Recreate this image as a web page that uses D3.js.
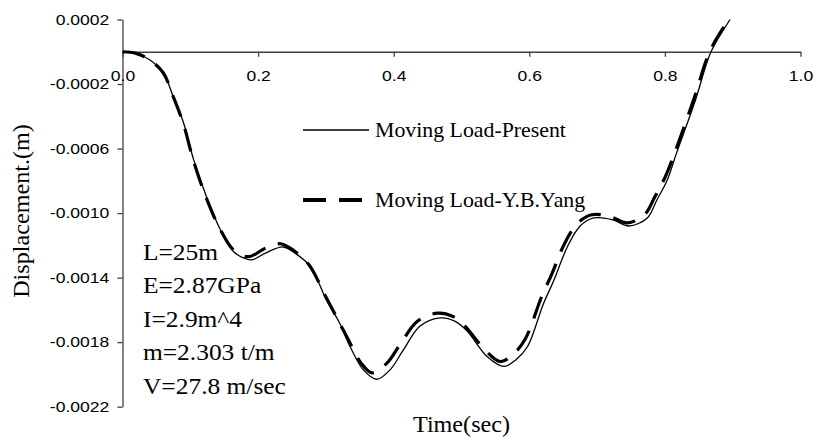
<!DOCTYPE html>
<html>
<head>
<meta charset="utf-8">
<script src="https://cdn.jsdelivr.net/npm/d3@7"></script>
<style>
  html, body { margin: 0; padding: 0; background: #fff; }
  svg { display: block; }
</style>
</head>
<body>
<svg id="chart" width="816" height="442"></svg>
<script>
// ---- data ----
const xTicks = [0, 0.2, 0.4, 0.6, 0.8, 1.0];
const yTicks = [0.0002, -0.0002, -0.0006, -0.0010, -0.0014, -0.0018, -0.0022];
const seriesNames = ["Moving Load-Present", "Moving Load-Y.B.Yang"];
const params = ["L=25m", "E=2.87GPa", "I=2.9m^4", "m=2.303 t/m", "V=27.8 m/sec"];

const presentT = [0, 0.02, 0.04, 0.06, 0.075, 0.09, 0.105, 0.124, 0.144, 0.164, 0.18, 0.191, 0.21, 0.237, 0.255, 0.277, 0.301, 0.32, 0.336, 0.355, 0.375, 0.395, 0.414, 0.439, 0.469, 0.49, 0.508, 0.538, 0.563, 0.58, 0.597, 0.621, 0.636, 0.656, 0.675, 0.695, 0.722, 0.747, 0.774, 0.788, 0.803, 0.817, 0.845, 0.868, 0.896, 0.91];
const presentV = [0, -0.00001, -0.00005, -0.00013, -0.00028, -0.00044, -0.00067, -0.00090, -0.00110, -0.00124, -0.00128, -0.00129, -0.00125, -0.00121, -0.00125, -0.00133, -0.00154, -0.00168, -0.00183, -0.00197, -0.00203, -0.00197, -0.00185, -0.00170, -0.00165, -0.00167, -0.00173, -0.00189, -0.00195, -0.00191, -0.00183, -0.00156, -0.00142, -0.00121, -0.00108, -0.00103, -0.00104, -0.00108, -0.00103, -0.00092, -0.00080, -0.00063, -0.00030, 0.0, 0.0002, 0.00030];

const yangT = [0, 0.02, 0.04, 0.06, 0.075, 0.09, 0.105, 0.124, 0.144, 0.164, 0.186, 0.21, 0.233, 0.252, 0.275, 0.30, 0.32, 0.335, 0.352, 0.368, 0.39, 0.41, 0.435, 0.465, 0.487, 0.505, 0.535, 0.557, 0.575, 0.594, 0.618, 0.633, 0.653, 0.672, 0.692, 0.718, 0.745, 0.77, 0.785, 0.80, 0.815, 0.843, 0.866, 0.894, 0.91];
const yangV = [0, -0.00001, -0.00005, -0.00013, -0.00028, -0.00045, -0.00068, -0.00091, -0.00110, -0.00123, -0.00127, -0.00122, -0.00119, -0.00123, -0.00132, -0.00152, -0.00168, -0.00180, -0.00193, -0.00199, -0.00193, -0.00181, -0.00167, -0.00162, -0.00164, -0.00170, -0.00185, -0.00192, -0.00188, -0.00178, -0.00152, -0.00138, -0.00118, -0.00106, -0.00101, -0.00102, -0.00106, -0.00101, -0.00090, -0.00078, -0.00062, -0.00029, 0.0, 0.0002, 0.00030];

// ---- layout ----
const svg = d3.select("#chart");
const X0 = 122.5, X1 = 800.5, Y0 = 19.5, Y1 = 406.7;
const x = d3.scaleLinear().domain([0, 1]).range([X0, X1]);
const y = d3.scaleLinear().domain([-0.0022, 0.0002]).range([Y1, Y0]);
const axisColor = "#404040";
const sans = "'Liberation Sans', Arial, sans-serif";
const serif = "'Liberation Serif', 'Times New Roman', serif";

svg.append("defs").append("clipPath").attr("id", "clip")
  .append("rect").attr("x", X0).attr("y", Y0).attr("width", X1 - X0).attr("height", Y1 - Y0);

// Y axis
const gy = svg.append("g").attr("transform", `translate(${X0},0)`)
  .call(d3.axisLeft(y).tickValues(yTicks).tickFormat(d => d.toFixed(4)).tickSize(5).tickSizeOuter(0).tickPadding(6));
gy.select(".domain").attr("stroke", axisColor).attr("stroke-width", 1.3);
gy.selectAll(".tick line").attr("stroke", axisColor).attr("stroke-width", 1.3);
gy.selectAll(".tick text").attr("font-family", sans).attr("font-size", 15).attr("fill", "#000")
  .attr("x", -11.3).attr("transform", "scale(1.17,1)");

// X axis at y=0
const gx = svg.append("g").attr("transform", `translate(0,${y(0)})`)
  .call(d3.axisBottom(x).tickValues(xTicks).tickFormat(d => d.toFixed(1)).tickSize(5).tickSizeOuter(0).tickPadding(14));
gx.select(".domain").attr("stroke", axisColor).attr("stroke-width", 1.3);
gx.selectAll(".tick line").attr("stroke", axisColor).attr("stroke-width", 1.3);
gx.selectAll(".tick text").attr("font-family", sans).attr("font-size", 15).attr("fill", "#000")
  .attr("transform", "scale(1.17,1)");

// Lines
const line = d3.line().x(d => x(d[0])).y(d => y(d[1])).curve(d3.curveCatmullRom.alpha(0.5));
const plot = svg.append("g").attr("clip-path", "url(#clip)");
plot.append("path").datum(yangT.map((t, i) => [t, yangV[i]]))
  .attr("d", line).attr("fill", "none").attr("stroke", "#000")
  .attr("stroke-width", 3.2).attr("stroke-dasharray", "23,13");
plot.append("path").datum(presentT.map((t, i) => [t, presentV[i]]))
  .attr("d", line).attr("fill", "none").attr("stroke", "#000").attr("stroke-width", 1.3);

// Legend
const leg = [
  { name: seriesNames[0], y: 130, w: 1.4, dash: null, x2: 369 },
  { name: seriesNames[1], y: 200, w: 4, dash: "23,13", x2: 364 }
];
leg.forEach(l => {
  svg.append("line").attr("x1", 303).attr("x2", l.x2).attr("y1", l.y).attr("y2", l.y)
    .attr("stroke", "#000").attr("stroke-width", l.w).attr("stroke-dasharray", l.dash);
  svg.append("text").attr("transform", `translate(375,${l.y + 6.7}) scale(1.04,1)`)
    .attr("font-family", serif).attr("font-size", 21).attr("fill", "#000").text(l.name);
});

// Parameters
params.forEach((p, i) => {
  svg.append("text").attr("transform", `translate(143,${260 + i * 33.4}) scale(1.06,1)`)
    .attr("font-family", serif).attr("font-size", 24).attr("fill", "#000").text(p);
});

// Axis titles
svg.append("text").attr("transform", "translate(461.5,431.5) scale(1.05,1)")
  .attr("text-anchor", "middle").attr("font-family", serif).attr("font-size", 23).attr("fill", "#000")
  .text("Time(sec)");
svg.append("text").attr("transform", "translate(28.5,211) rotate(-90) scale(1.05,1)")
  .attr("text-anchor", "middle").attr("font-family", serif).attr("font-size", 23).attr("fill", "#000")
  .text("Displacement.(m)");
</script>
</body>
</html>
